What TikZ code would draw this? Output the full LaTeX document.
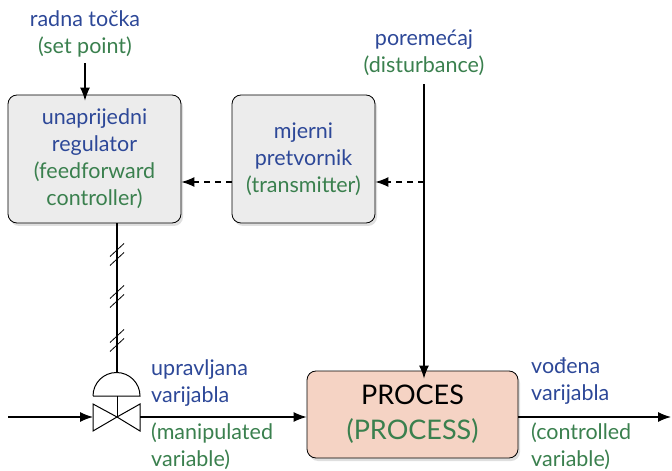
\documentclass[tikz,border=0pt]{standalone}
\usepackage{fontspec}
\setmainfont{Lato}
\usepackage{tikz}
\usetikzlibrary{arrows.meta,shadows}
\definecolor{hrblue}{RGB}{45,72,152}
\definecolor{engreen}{RGB}{58,128,78}
\definecolor{boxgray}{RGB}{236,236,236}
\definecolor{procpink}{RGB}{245,211,196}
\tikzset{
	blok/.style={draw, line width=0.8bp, rounded corners=9bp, fill=boxgray, align=center,
		drop shadow={shadow xshift=2bp, shadow yshift=-3bp, opacity=0.25}},
	natpis/.style={align=center, inner sep=0pt},
	linija/.style={line width=1.2bp},
	strelica/.style={line width=1.2bp, -{Latex[length=13bp,width=10bp]}},
	isprekidano/.style={dash pattern=on 6bp off 5bp}
}
\newcommand{\hr}[1]{\textcolor{hrblue}{#1}}
\newcommand{\en}[1]{\textcolor{engreen}{#1}}
\begin{document}
\begin{tikzpicture}[x=1bp, y=-1bp, font=\fontsize{21.5bp}{27bp}\selectfont]
		%%%%% START %%%%%
		\useasboundingbox (0, 0) rectangle (672, 471);
		
		% blokovi
		\node[blok, minimum width=173bp, minimum height=128bp] (ff) at (94.5, 159) {\hr{unaprijedni}\\\hr{regulator}\\\en{(feedforward}\\\en{controller)}};
		\node[blok, minimum width=143bp, minimum height=128bp] (tr) at (303.5, 159) {\hr{mjerni}\\\hr{pretvornik}\\\en{(transmitter)}};
		\node[blok, fill=procpink, minimum width=211bp, minimum height=87bp, font=\fontsize{27bp}{35bp}\selectfont] (proc) at (412.5, 414.5) {PROCES\\\en{(PROCESS)}};
		
		% ulazi
		\node[natpis] (sp) at (85, 34) {\hr{radna točka}\\\en{(set point)}};
		\node[natpis] (dist) at (424, 53) {\hr{poremećaj}\\\en{(disturbance)}};
		
		\draw[strelica] ([yshift=-6bp]sp.south) -- ([yshift=-6bp]sp.south |- ff.north);
		\draw[strelica] ([yshift=-8bp]dist.south) -- ([yshift=-8bp]dist.south |- proc.north);
		
		\coordinate (dj) at (424, 182);
		\draw[strelica, isprekidano] (dj) -- (dj -| tr.east);
		\draw[strelica, isprekidano] (tr.west |- dj) -- (ff.east |- dj);
		
		% ventil
		\coordinate (vtop) at (117, 372);
		\coordinate (vc) at (117, 417);
		\coordinate (vl) at (93, 417);
		\coordinate (vr) at (140, 417);
		\draw[line width=1bp] (93, 396) -- (140, 396) arc (0:-180:23.5) -- cycle;
		\draw[line width=1bp] (vc) -- (117, 396);
		\draw[line width=1bp] (vc) -- (93, 404) -- (93, 431) -- cycle;
		\draw[line width=1bp] (vc) -- (140, 404) -- (140, 431) -- cycle;
		
		\draw[linija] (ff.south -| vtop) -- (vtop);
		\foreach \ty in {257, 299, 343}
		{
			\draw[line width=0.8bp] (110, \ty-0.5) -- (124, \ty-13.5);
			\draw[line width=0.8bp] (110, \ty+8.5) -- (124, \ty-4.5);
		}
		
		% glavni tok
		\coordinate (ulaz) at (8, 417);
		\coordinate (izlaz) at (671, 417);
		\draw[strelica] (ulaz) -- (vl);
		\draw[strelica] (vr) -- (proc.west |- vr);
		\draw[strelica] (proc.east |- vr) -- (izlaz);
		
		% oznake
		\node[natpis, anchor=west, align=left] (mv1) at (151, 383) {\hr{upravljana}\\\hr{varijabla}};
		\node[natpis, anchor=west, align=left] (mv2) at (151, 446) {\en{(manipulated}\\\en{variable)}};
		\node[natpis, anchor=west, align=left] (cv1) at (531, 381) {\hr{vođena}\\\hr{varijabla}};
		\node[natpis, anchor=west, align=left] (cv2) at (531, 446) {\en{(controlled}\\\en{variable)}};
		
		%%%%% END %%%%%
	\end{tikzpicture}
\end{document}
